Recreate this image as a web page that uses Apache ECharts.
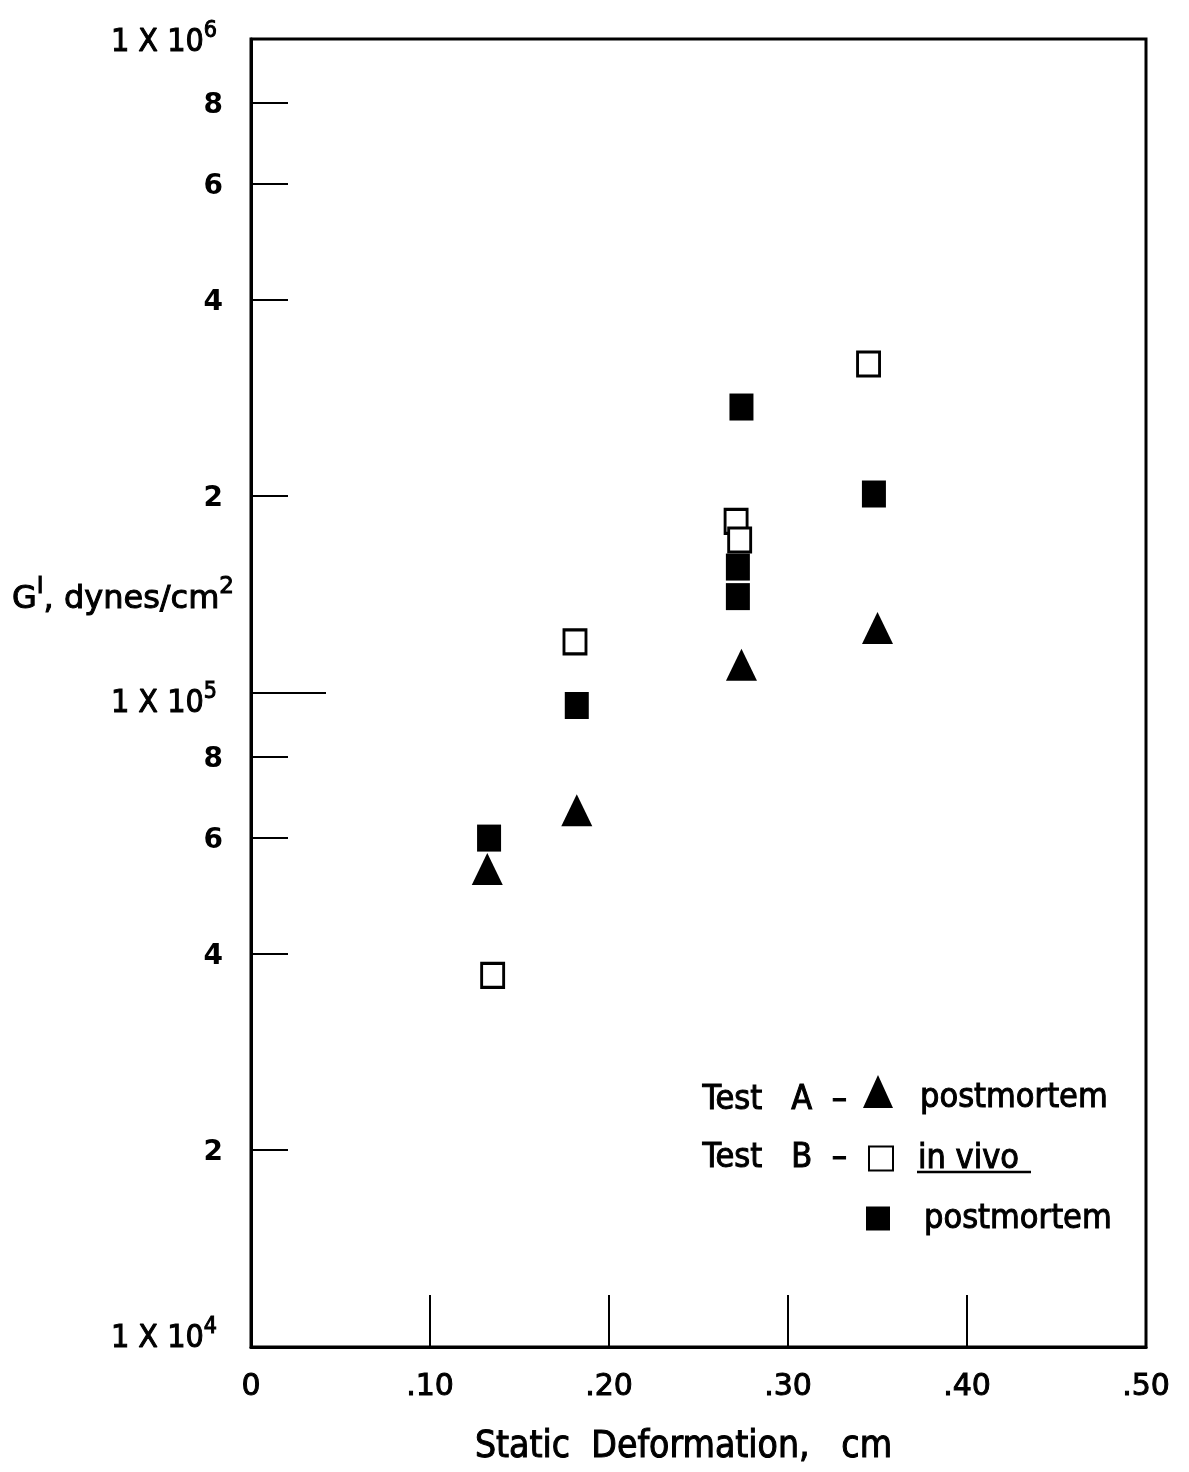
<!DOCTYPE html>
<html>
<head>
<meta charset="utf-8">
<script src="https://cdn.jsdelivr.net/npm/echarts@6/dist/echarts.min.js"></script>
<style>
  html, body { margin: 0; padding: 0; background: #fff; }
  #chart { width: 1189px; height: 1472px; }
</style>
</head>
<body>
<div id="chart"></div>
<script>
// Storage modulus G' against static deformation, log scale on G'
const deformationA = [0.132, 0.182, 0.274, 0.350];
const modulusA = [53800, 66200, 110500, 125700];

const deformationBVivo = [0.135, 0.181, 0.271, 0.273, 0.345];
const modulusBVivo = [37000, 119700, 183000, 171400, 318500];

const deformationBPost = [0.133, 0.182, 0.274, 0.348, 0.272, 0.272];
const modulusBPost = [60000, 95700, 273700, 201500, 155800, 140400];

const xTickValues = [0.1, 0.2, 0.3, 0.4];
const xLabelValues = [0, 0.1, 0.2, 0.3, 0.4, 0.5];
const yLabelValues = [1e4, 2e4, 4e4, 6e4, 8e4, 1e5, 2e5, 4e5, 6e5, 8e5, 1e6];
const yMinorTickValues = [2e4, 4e4, 6e4, 8e4, 2e5, 4e5, 6e5, 8e5];
const yMajorTickValues = [1e5];

const seriesNames = ['Test A postmortem', 'Test B in vivo', 'Test B postmortem'];
const legendLabels = ['postmortem', 'in vivo', 'postmortem'];
const legendPrefixes = ['Test   A  –', 'Test   B  –'];

const COND = '"DejaVu Sans Condensed", "DejaVu Sans", sans-serif';
const SANS = '"DejaVu Sans", sans-serif';
const INK = '#000';
const THICK = 1; // slight stroke so lettering reads as heavy pen lettering

function pairs(xs, ys) {
  return xs.map((x, i) => [x, ys[i]]);
}

// power-of-ten labels get a superscript exponent; 2,4,6,8 show the mantissa only
function yLabel(v) {
  const exp = Math.round(Math.log10(v));
  if (Math.abs(v - Math.pow(10, exp)) < 1e-6 * v) {
    const suf = exp === 4 ? 'L' : (exp === 5 ? 'D' : '');
    return '{b' + suf + '|1 X 10}{s' + suf + '|' + exp + '}';
  }
  return '{n|' + Math.round(v / Math.pow(10, Math.floor(Math.log10(v)))) + '}';
}

function baseStyle(pad) {
  return { fontFamily: COND, fontSize: 32, color: INK, verticalAlign: 'bottom',
           textBorderColor: INK, textBorderWidth: THICK, padding: pad };
}
function supStyle(pad) {
  return { fontFamily: COND, fontSize: 23, color: INK, verticalAlign: 'bottom',
           textBorderColor: INK, textBorderWidth: THICK, padding: pad };
}
function legendStyle(pad) {
  return { fontFamily: COND, fontSize: 34, color: INK,
           textBorderColor: INK, textBorderWidth: THICK, padding: pad };
}

const chart = echarts.init(document.getElementById('chart'), null, { renderer: 'canvas' });

function legendFor(i, extra) {
  return Object.assign({
    data: [seriesNames[i]],
    orient: 'vertical',
    selectedMode: false,
    padding: 0,
    formatter: name => '{l' + i + '|' + legendLabels[seriesNames.indexOf(name)] + '}',
    textStyle: {
      rich: {
        l0: legendStyle([14, 0, 0, 22]),
        l1: legendStyle([2, 0, 0, 20]),
        l2: legendStyle([2, 0, 0, 29])
      }
    }
  }, extra);
}

chart.setOption({
  animation: false,
  backgroundColor: '#fff',
  grid: {
    left: 251, right: 43, top: 39, bottom: 125,
    show: true, borderColor: INK, borderWidth: 3, backgroundColor: 'transparent'
  },
  title: [{
    text: '{t|G}{p|I}{t|, dynes/cm}{p|2}',
    left: 12, top: 576,
    padding: 0,
    textStyle: {
      fontWeight: 'normal',
      rich: {
        t: { fontFamily: SANS, fontSize: 32, fontWeight: 'normal', color: INK, verticalAlign: 'bottom',
             textBorderColor: INK, textBorderWidth: THICK },
        p: { fontFamily: SANS, fontSize: 23, fontWeight: 'normal', color: INK, verticalAlign: 'bottom',
             padding: [0, 0, 17, 0], textBorderColor: INK, textBorderWidth: THICK }
      }
    }
  }],
  xAxis: {
    type: 'value',
    min: 0, max: 0.5, interval: 0.1,
    name: 'Static  Deformation,   cm',
    nameLocation: 'middle',
    nameGap: 82,
    nameTextStyle: {
      fontFamily: COND, fontSize: 37, color: INK, padding: [0, 30, 0, 0],
      textBorderColor: INK, textBorderWidth: THICK
    },
    axisLine: { lineStyle: { color: INK, width: 3 } },
    axisTick: { inside: true, length: 52, lineStyle: { color: INK, width: 2 }, customValues: xTickValues },
    axisLabel: {
      fontFamily: SANS, fontSize: 30, color: INK, margin: 25,
      textBorderColor: INK, textBorderWidth: THICK,
      customValues: xLabelValues,
      formatter: v => v === 0 ? '0' : '.' + String(Math.round(v * 100)).padStart(2, '0')
    },
    splitLine: { show: false }
  },
  yAxis: [{
    type: 'log',
    min: 1e4, max: 1e6,
    axisLine: { lineStyle: { color: INK, width: 3 } },
    axisTick: { inside: true, length: 37, lineStyle: { color: INK, width: 2 }, customValues: yMinorTickValues },
    axisLabel: {
      margin: 28,
      customValues: yLabelValues,
      formatter: yLabel,
      rich: {
        b: baseStyle([0, 0, 0, 0]),
        s: supStyle([0, 6, 16, 0]),
        bD: baseStyle([14, 0, 0, 0]),
        sD: supStyle([14, 6, 16, 0]),
        bL: baseStyle([0, 0, 24, 0]),
        sL: supStyle([0, 6, 40, 0]),
        n: { fontFamily: SANS, fontSize: 28, fontWeight: 'bold', color: INK, padding: [6, 0, 0, 0] }
      }
    },
    splitLine: { show: false },
    minorTick: { show: false }
  }, {
    type: 'log',
    min: 1e4, max: 1e6,
    position: 'left',
    axisLine: { show: false },
    axisTick: { inside: true, length: 75, lineStyle: { color: INK, width: 2 }, customValues: yMajorTickValues },
    axisLabel: { show: false },
    splitLine: { show: false }
  }],
  legend: [
    legendFor(0, { left: 863, top: 1075, itemWidth: 30, itemHeight: 33 }),
    legendFor(1, { left: 868, top: 1142, itemWidth: 24, itemHeight: 24 }),
    legendFor(2, { left: 866, top: 1202, itemWidth: 24, itemHeight: 24 })
  ],
  graphic: [
    { type: 'text', left: 702, top: 1083,
      style: { text: legendPrefixes[0], font: '34px ' + COND, fill: INK, stroke: INK, lineWidth: THICK } },
    { type: 'text', left: 702, top: 1141,
      style: { text: legendPrefixes[1], font: '34px ' + COND, fill: INK, stroke: INK, lineWidth: THICK } },
    { type: 'line', shape: { x1: 917, y1: 1172, x2: 1031, y2: 1172 }, style: { stroke: INK, lineWidth: 2.5 } }
  ],
  series: [{
    name: seriesNames[0],
    type: 'scatter',
    data: pairs(deformationA, modulusA),
    symbol: 'triangle',
    symbolSize: [31, 32],
    itemStyle: { color: INK, opacity: 1 },
    z: 2
  }, {
    name: seriesNames[2],
    type: 'scatter',
    data: pairs(deformationBPost, modulusBPost),
    symbol: 'rect',
    symbolSize: [24, 27],
    itemStyle: { color: INK, opacity: 1 },
    z: 3
  }, {
    name: seriesNames[1],
    type: 'scatter',
    data: pairs(deformationBVivo, modulusBVivo),
    symbol: 'rect',
    symbolSize: [22, 24],
    itemStyle: { color: '#fff', borderColor: INK, borderWidth: 3, opacity: 1 },
    z: 4
  }]
});
</script>
</body>
</html>
